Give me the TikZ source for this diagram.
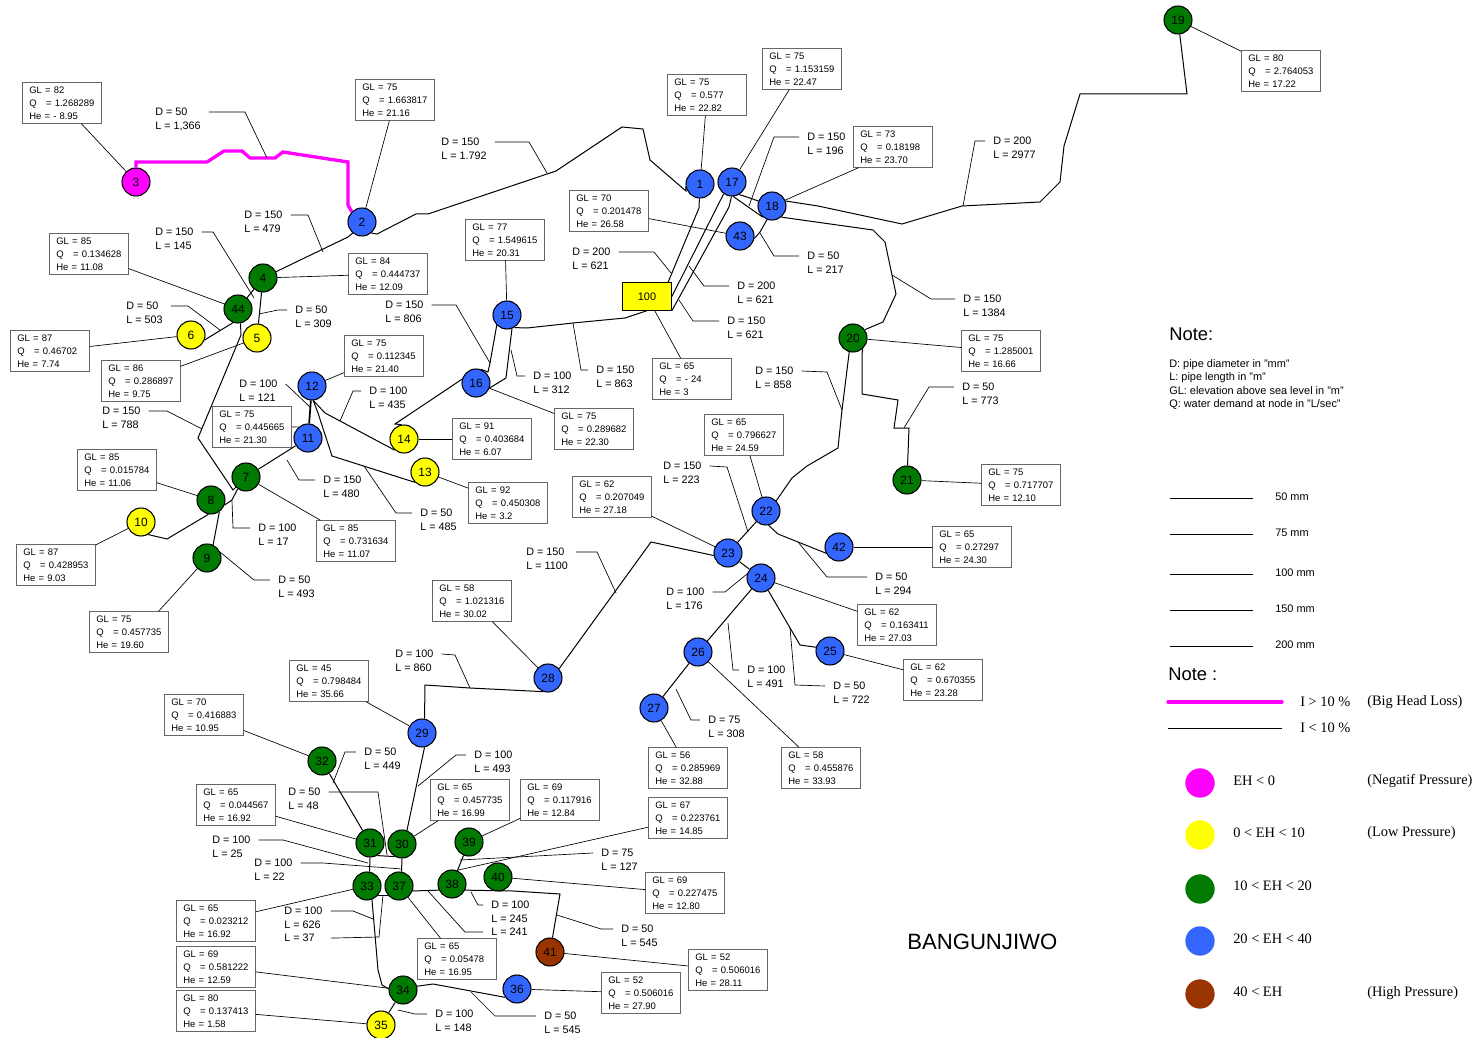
\documentclass[tikz,border=0pt]{standalone}
\usepackage{fontspec}
\setmainfont{Liberation Sans}
\newfontfamily\keyserif{Liberation Serif}
\usepackage{xcolor}
\usepackage{tikz}
\usetikzlibrary{arrows.meta,positioning,shapes,calc}
\definecolor{negcol}{RGB}{255,0,255}
\definecolor{lowcol}{RGB}{255,255,0}
\definecolor{midcol}{RGB}{0,122,0}
\definecolor{goodcol}{RGB}{51,102,255}
\definecolor{highcol}{RGB}{153,51,0}
\newcommand{\gqh}[3]{GL = #1\\Q\ \ \ = #2\\He = #3}

\begin{document}
\begin{tikzpicture}[
    x=0.75pt, y=-0.75pt,
    junction/.style={circle, draw, line width=0.8pt, minimum size=21pt, inner sep=0pt, font=\fontsize{9}{9}\selectfont},
    negnode/.style={junction, fill=negcol},
    lownode/.style={junction, fill=lowcol},
    midnode/.style={junction, fill=midcol},
    goodnode/.style={junction, fill=goodcol},
    highnode/.style={junction, fill=highcol},
    tanknode/.style={rectangle, draw, line width=0.8pt, fill=lowcol, minimum width=36.5pt, minimum height=20.5pt, inner sep=0pt, font=\fontsize{8.2}{9}\selectfont},
    databox/.style={rectangle, draw=black!60, line width=0.55pt, fill=white, minimum width=59pt, minimum height=30.5pt, text width=49pt, inner xsep=5pt, inner ysep=0pt, align=left, font=\fontsize{7.1}{9.75}\selectfont},
    pipetag/.style={anchor=north west, xshift=-6pt, inner xsep=6pt, inner ysep=-2.9pt, align=left, font=\fontsize{8.1}{10}\selectfont},
    pipe/.style={line width=0.75pt},
    keyline/.style={line width=0.6pt},
    bigloss/.style={line width=2.5pt, draw=negcol},
    leader/.style={line width=0.5pt},
    notetitle/.style={anchor=west, inner sep=0pt, font=\fontsize{13.8}{15}\selectfont},
    notetext/.style={anchor=west, inner sep=0pt, font=\fontsize{8.2}{10}\selectfont},
    keytext/.style={anchor=west, inner sep=0pt, font=\keyserif\fontsize{10.8}{12}\selectfont},
    keydot/.style={circle, minimum size=22pt, inner sep=0pt}
  ]
    \useasboundingbox (0,0) rectangle (1479,1038);

    \node[goodnode] (n1) at (700,184) {1};
    \node[goodnode] (n2) at (362,222) {2};
    \node[negnode] (n3) at (136,182) {3};
    \node[midnode] (n4) at (263,278) {4};
    \node[lownode] (n5) at (257,338) {5};
    \node[lownode] (n6) at (191,335) {6};
    \node[midnode] (n7) at (246,477) {7};
    \node[midnode] (n8) at (211,500) {8};
    \node[midnode] (n9) at (207,558) {9};
    \node[lownode] (n10) at (141,522) {10};
    \node[goodnode] (n11) at (308,438) {11};
    \node[goodnode] (n12) at (312,386) {12};
    \node[lownode] (n13) at (425,472) {13};
    \node[lownode] (n14) at (404,439) {14};
    \node[goodnode] (n15) at (507,315) {15};
    \node[goodnode] (n16) at (476,383) {16};
    \node[goodnode] (n17) at (732,182) {17};
    \node[goodnode] (n18) at (772,206) {18};
    \node[midnode] (n19) at (1178,20) {19};
    \node[midnode] (n20) at (853,338) {20};
    \node[midnode] (n21) at (907,480) {21};
    \node[goodnode] (n22) at (766,511) {22};
    \node[goodnode] (n23) at (728,553) {23};
    \node[goodnode] (n24) at (761,578) {24};
    \node[goodnode] (n25) at (830,651) {25};
    \node[goodnode] (n26) at (698,652) {26};
    \node[goodnode] (n27) at (654,708) {27};
    \node[goodnode] (n28) at (548,678) {28};
    \node[goodnode] (n29) at (422,733) {29};
    \node[midnode] (n30) at (402,844) {30};
    \node[midnode] (n31) at (370,843) {31};
    \node[midnode] (n32) at (322,761) {32};
    \node[midnode] (n33) at (367,886) {33};
    \node[midnode] (n34) at (403,990) {34};
    \node[lownode] (n35) at (381,1025) {35};
    \node[goodnode] (n36) at (517,989) {36};
    \node[midnode] (n37) at (399,886) {37};
    \node[midnode] (n38) at (452,884) {38};
    \node[midnode] (n39) at (469,842) {39};
    \node[midnode] (n40) at (498,877) {40};
    \node[highnode] (n41) at (550,952) {41};
    \node[goodnode] (n42) at (839,547) {42};
    \node[goodnode] (n43) at (740,236) {43};
    \node[midnode] (n44) at (238,309) {44};
    \node[tanknode] (tank) at (647,296.5) {100};

    \node[databox] (q1) at (707,95) {\gqh{75}{0.577}{22.82}};
    \node[databox] (q2) at (395,100) {\gqh{75}{1.663817}{21.16}};
    \node[databox] (q3) at (62,103) {\gqh{82}{1.268289}{- 8.95}};
    \node[databox] (q4) at (388,274) {\gqh{84}{0.444737}{12.09}};
    \node[databox] (q5) at (141,381) {\gqh{86}{0.286897}{9.75}};
    \node[databox] (q6) at (50,351) {\gqh{87}{0.46702}{7.74}};
    \node[databox] (q7) at (356,541) {\gqh{85}{0.731634}{11.07}};
    \node[databox] (q8) at (117,470) {\gqh{85}{0.015784}{11.06}};
    \node[databox] (q9) at (129,632) {\gqh{75}{0.457735}{19.60}};
    \node[databox] (q10) at (56,565) {\gqh{87}{0.428953}{9.03}};
    \node[databox] (q11) at (252,427) {\gqh{75}{0.445665}{21.30}};
    \node[databox] (q12) at (384,356) {\gqh{75}{0.112345}{21.40}};
    \node[databox] (q13) at (508,503) {\gqh{92}{0.450308}{3.2}};
    \node[databox] (q14) at (492,439) {\gqh{91}{0.403684}{6.07}};
    \node[databox] (q15) at (505,240) {\gqh{77}{1.549615}{20.31}};
    \node[databox] (q16) at (594,429) {\gqh{75}{0.289682}{22.30}};
    \node[databox] (q17) at (802,69) {\gqh{75}{1.153159}{22.47}};
    \node[databox] (q18) at (893,147) {\gqh{73}{0.18198}{23.70}};
    \node[databox] (q19) at (1281,71) {\gqh{80}{2.764053}{17.22}};
    \node[databox] (q20) at (1001,351) {\gqh{75}{1.285001}{16.66}};
    \node[databox] (q21) at (1021,485) {\gqh{75}{0.717707}{12.10}};
    \node[databox] (q22) at (744,435) {\gqh{65}{0.796627}{24.59}};
    \node[databox] (q23) at (612,497) {\gqh{62}{0.207049}{27.18}};
    \node[databox] (q24) at (897,625) {\gqh{62}{0.163411}{27.03}};
    \node[databox] (q25) at (943,680) {\gqh{62}{0.670355}{23.28}};
    \node[databox] (q26) at (821,768) {\gqh{58}{0.455876}{33.93}};
    \node[databox] (q27) at (688,768) {\gqh{56}{0.285969}{32.88}};
    \node[databox] (q28) at (472,601) {\gqh{58}{1.021316}{30.02}};
    \node[databox] (q29) at (329,681) {\gqh{45}{0.798484}{35.66}};
    \node[databox] (q30) at (470,800) {\gqh{65}{0.457735}{16.99}};
    \node[databox] (q31) at (236,805) {\gqh{65}{0.044567}{16.92}};
    \node[databox] (q32) at (204,715) {\gqh{70}{0.416883}{10.95}};
    \node[databox] (q33) at (216,921) {\gqh{65}{0.023212}{16.92}};
    \node[databox] (q34) at (216,967) {\gqh{69}{0.581222}{12.59}};
    \node[databox] (q35) at (216,1011) {\gqh{80}{0.137413}{1.58}};
    \node[databox] (q36) at (641,993) {\gqh{52}{0.506016}{27.90}};
    \node[databox] (q37) at (457,959) {\gqh{65}{0.05478}{16.95}};
    \node[databox] (q38) at (688,818) {\gqh{67}{0.223761}{14.85}};
    \node[databox] (q39) at (560,800) {\gqh{69}{0.117916}{12.84}};
    \node[databox] (q40) at (685,893) {\gqh{69}{0.227475}{12.80}};
    \node[databox] (q41) at (728,970) {\gqh{52}{0.506016}{28.11}};
    \node[databox] (q42) at (972,547) {\gqh{65}{0.27297}{24.30}};
    \node[databox] (q43) at (609,211) {\gqh{70}{0.201478}{26.58}};
    \node[databox] (q44) at (89,254) {\gqh{85}{0.134628}{11.08}};
    \node[databox] (qtank) at (692,379) {\gqh{65}{- 24}{3}};

    \draw[leader] (q1) -- (n1);
    \draw[leader] (q2) -- (n2);
    \draw[leader] (q3) -- (n3);
    \draw[leader] (q4) -- (n4);
    \draw[leader] (q5) -- (n5);
    \draw[leader] (q6) -- (n6);
    \draw[leader] (q7) -- (n7);
    \draw[leader] (q8) -- (n8);
    \draw[leader] (q9.35) -- (n9);
    \draw[leader] (q10) -- (n10);
    \draw[leader] (q11.east) -- (n11.130);
    \draw[leader] (q12) -- (n12);
    \draw[leader] (q13) -- (n13);
    \draw[leader] (q14) -- (n14);
    \draw[leader] (q15) -- (n15);
    \draw[leader] (q16) -- (n16);
    \draw[leader] (q17) -- (n17);
    \draw[leader] (q18.-149) -- (n18);
    \draw[leader] (q19) -- (n19);
    \draw[leader] (q20) -- (n20);
    \draw[leader] (q21) -- (n21);
    \draw[leader] (q22) -- (n22);
    \draw[leader] (q23) -- (n23);
    \draw[leader] (q24) -- (n24);
    \draw[leader] (q25) -- (n25);
    \draw[leader] (q26) -- (n26);
    \draw[leader] (q27) -- (n27);
    \draw[leader] (q28) -- (n28);
    \draw[leader] (q29) -- (n29);
    \draw[leader] (q30) -- (n30);
    \draw[leader] (q31) -- (n31);
    \draw[leader] (q32) -- (n32);
    \draw[leader] (q33) -- (n33);
    \draw[leader] (q34) -- (n34);
    \draw[leader] (q35) -- (n35);
    \draw[leader] (q36) -- (n36);
    \draw[leader] (q37) -- (n37);
    \draw[leader] (q38.-167) -- (n38.70);
    \draw[leader] (q39) -- (n39);
    \draw[leader] (q40) -- (n40);
    \draw[leader] (q41) -- (n41);
    \draw[leader] (q42) -- (n42);
    \draw[leader] (q43) -- (n43);
    \draw[leader] (q44) -- (n44);
    \draw[leader] (qtank) -- (tank);

    \draw[bigloss] (n3.north) -- (136,162) -- (207,162) -- (224,151) -- (242,151) -- (250,158) -- (275,158) -- (283,152) -- (348,162) -- (348,205) -- (n2.135);
    \draw[pipe] (n4) -- (348,237) -- (n2.-130);
    \draw[pipe] (n2.-50) -- (377,234) -- (416,214) -- (428,214) -- (556,171) -- (622,127) -- (643,129) -- (650,160) -- (686,191) -- (n1.-170);
    \draw[pipe] (n4) -- (n44);
    \draw[pipe] (n4) -- (n5);
    \draw[pipe] (n44.-110) -- (n6.-20);
    \draw[pipe] (n44.-80) -- (241,335) -- (198,438) -- (233,490) -- (n7.-135);
    \draw[pipe] (n7.-125) -- (232,500) -- (n8.-20);
    \draw[pipe] (n8.-100) -- (167,539) -- (n10.-60);
    \draw[pipe] (n8.-55) -- (n9.65);
    \draw[pipe] (n7) -- (n11);
    \draw[pipe, line width=1.3pt] (n11) -- (n12);
    \draw[pipe] (n12.-85) -- (325,413) -- (n14.-130);
    \draw[pipe] (n12.-85) -- (318,413) -- (332,456) -- (n13.-135);
    \draw[pipe] (n14.100) -- (395,424) -- (n16.165);
    \draw[pipe] (n15.-135) -- (490,363) -- (488,372) -- (n16.70);
    \draw[pipe] (n15.-70) -- (506,378) -- (n16.-20);
    \draw[pipe] (n15.-60) -- (527,328) -- (573,323) -- (625,318) -- (tank.south);
    \draw[pipe] (n1) -- (699,208) -- (tank.34);
    \draw[pipe] (n17.-125) -- (717,207) -- (tank.east);
    \draw[pipe] (n17.-92) -- (729,207) -- (tank.south east);
    \draw[pipe] (n17.-85) -- (n18.-130);
    \draw[pipe] (n17.-60) -- (750,198) -- (n18.160);
    \draw[pipe] (n18.-110) -- (760,232) -- (n43.-10);
    \draw[pipe] (n18.-50) -- (873,230) -- (885,242) -- (896,294) -- (883,322) -- (n20.35);
    \draw[pipe] (n18.20) -- (818,206) -- (902,224) -- (962,206) -- (1040,202) -- (1060,182) -- (1064,146) -- (1080,94) -- (1187,94) -- (n19);
    \draw[pipe] (n20.-50) -- (862,360) -- (862,394) -- (898,400) -- (894,428) -- (909,428) -- (n21);
    \draw[pipe] (n20.-105) -- (842,410) -- (838,448) -- (807,466) -- (792,478) -- (n22.45);
    \draw[pipe] (n22) -- (n23);
    \draw[pipe] (n22.-80) -- (778,534) -- (n42.-155);
    \draw[pipe] (n23) -- (n24);
    \draw[pipe] (n23.-170) -- (651,542) -- (n28.40);
    \draw[pipe] (n24) -- (n26);
    \draw[pipe] (n24.-60) -- (800,645) -- (n25.165);
    \draw[pipe] (n26) -- (n27);
    \draw[pipe] (n28.-110) -- (470,688) -- (425,685) -- (n29.80);
    \draw[pipe] (n29.-80) -- (n30.70);
    \draw[pipe] (n31.-60) -- (n30.-120);
    \draw[pipe] (n31.-90) -- (n33.80);
    \draw[pipe] (n30.-90) -- (n37.80);
    \draw[pipe] (n32) -- (n31);
    \draw[pipe] (n33.-40) -- (n37.-140);
    \draw[pipe] (n33.-70) -- (378,970) -- (382,985) -- (n34.175);
    \draw[pipe] (n37.-20) -- (n38.-155);
    \draw[pipe] (n38) -- (n39);
    \draw[pipe] (n38.-25) -- (513,891) -- (560,894) -- (n41);
    \draw[pipe] (n34.15) -- (433,984) -- (n36.-145);
    \draw[pipe] (n34) -- (n35);

    \node[pipetag] (d3) at (155,112) {D = 50\\L = 1,366};
    \coordinate (tap3) at (267,158);
    \draw[leader] (d3.north east) -- (245,112) -- (tap3);
    \node[pipetag] (d2) at (441,142) {D = 150\\L = 1.792};
    \coordinate (tap2) at (547,173);
    \draw[leader] (d2.north east) -- (529,142) -- (tap2);
    \node[pipetag] (d4) at (244,215) {D = 150\\L = 479};
    \coordinate (tap4) at (323,252);
    \draw[leader] (d4.north east) -- (308,215) -- (tap4);
    \node[pipetag] (d44) at (155,232) {D = 150\\L = 145};
    \coordinate (tap44) at (254,298);
    \draw[leader] (d44.north east) -- (213,232) -- (tap44);
    \node[pipetag] (d6) at (126,306) {D = 50\\L = 503};
    \coordinate (tap6) at (220,330);
    \draw[leader] (d6.north east) -- (188,306) -- (tap6);
    \node[pipetag] (d5) at (295,310) {D = 50\\L = 309};
    \coordinate (tap5) at (259,314);
    \draw[leader] (d5.north west) -- (278,310) -- (tap5);
    \node[pipetag] (d16a) at (385,305) {D = 150\\L = 806};
    \coordinate (tap16a) at (490,363);
    \draw[leader] (d16a.north east) -- (456,305) -- (tap16a);
    \node[pipetag] (d16b) at (533,376) {D = 100\\L = 312};
    \coordinate (tap16b) at (511,350);
    \draw[leader] (d16b.north west) -- (517,376) -- (tap16b);
    \node[pipetag] (d15) at (596,370) {D = 150\\L = 863};
    \coordinate (tap15) at (573,323);
    \draw[leader] (d15.north west) -- (581,370) -- (tap15);
    \node[pipetag] (d1) at (572,252) {D = 200\\L = 621};
    \coordinate (tap1) at (671,273);
    \draw[leader] (d1.north east) -- (654,252) -- (tap1);
    \node[pipetag] (d17a) at (737,286) {D = 200\\L = 621};
    \coordinate (tap17a) at (689,266);
    \draw[leader] (d17a.north west) -- (704,286) -- (tap17a);
    \node[pipetag] (d17b) at (727,321) {D = 150\\L = 621};
    \coordinate (tap17b) at (679,300);
    \draw[leader] (d17b.north west) -- (693,321) -- (tap17b);
    \node[pipetag] (d43) at (807,256) {D = 50\\L = 217};
    \coordinate (tap43) at (760,233);
    \draw[leader] (d43.north west) -- (774,256) -- (tap43);
    \node[pipetag] (d18) at (807,137) {D = 150\\L = 196};
    \coordinate (tap18) at (749,206);
    \draw[leader] (d18.north west) -- (774,137) -- (tap18);
    \node[pipetag] (d19) at (993,141) {D = 200\\L = 2977};
    \coordinate (tap19) at (963,206);
    \draw[leader] (d19.north west) -- (975,141) -- (tap19);
    \node[pipetag] (d20) at (963,299) {D = 150\\L = 1384};
    \coordinate (tap20) at (892,275);
    \draw[leader] (d20.north west) -- (931,299) -- (tap20);
    \node[pipetag] (d21) at (962,387) {D = 50\\L = 773};
    \coordinate (tap21) at (904,428);
    \draw[leader] (d21.north west) -- (929,387) -- (tap21);
    \node[pipetag] (d22) at (755,371) {D = 150\\L = 858};
    \coordinate (tap22) at (842,410);
    \draw[leader] (d22.north east) -- (827,372) -- (tap22);
    \node[pipetag] (d23a) at (663,466) {D = 150\\L = 223};
    \coordinate (tap23a) at (748,532);
    \draw[leader] (d23a.north east) -- (727,467) -- (tap23a);
    \node[pipetag] (d28) at (526,552) {D = 150\\L = 1100};
    \coordinate (tap28) at (616,593);
    \draw[leader] (d28.north east) -- (597,552) -- (tap28);
    \node[pipetag] (d24) at (666,592) {D = 100\\L = 176};
    \coordinate (tap24) at (747,574);
    \draw[leader] (d24.north east) -- (725,592) -- (tap24);
    \node[pipetag] (d42) at (875,577) {D = 50\\L = 294};
    \coordinate (tap42) at (798,542);
    \draw[leader] (d42.north west) -- (827,577) -- (tap42);
    \node[pipetag] (d26) at (747,670) {D = 100\\L = 491};
    \coordinate (tap26) at (728,623);
    \draw[leader] (d26.north west) -- (733,670) -- (tap26);
    \node[pipetag] (d25) at (833,686) {D = 50\\L = 722};
    \coordinate (tap25) at (790,628);
    \draw[leader] (d25.north west) -- (795,685) -- (tap25);
    \node[pipetag] (d27) at (708,720) {D = 75\\L = 308};
    \coordinate (tap27) at (676,689);
    \draw[leader] (d27.north west) -- (691,720) -- (tap27);
    \node[pipetag] (d29) at (395,654) {D = 100\\L = 860};
    \coordinate (tap29) at (470,688);
    \draw[leader] (d29.north east) -- (455,655) -- (tap29);
    \node[pipetag] (d32) at (364,752) {D = 50\\L = 449};
    \coordinate (tap32) at (333,783);
    \draw[leader] (d32.north west) -- (345,752) -- (tap32);
    \node[pipetag] (d31) at (288,792) {D = 50\\L = 48};
    \coordinate (tap31) at (387,855);
    \draw[leader] (d31.north east) -- (378,792) -- (tap31);
    \node[pipetag] (d30) at (474,755) {D = 100\\L = 493};
    \coordinate (tap30) at (418,786);
    \draw[leader] (d30.north west) -- (456,755) -- (tap30);
    \node[pipetag] (d33a) at (212,840) {D = 100\\L = 25};
    \coordinate (tap33a) at (368,863);
    \draw[leader] (d33a.north east) -- (283,840) -- (tap33a);
    \node[pipetag] (d37a) at (254,863) {D = 100\\L = 22};
    \coordinate (tap37a) at (402,869);
    \draw[leader] (d37a.north east) -- (323,863) -- (tap37a);
    \node[pipetag] (d34) at (284,911) {D = 100\\L = 626\\L = 37};
    \coordinate (tap34) at (373,919);
    \coordinate (tap33b) at (383,895);
    \draw[leader] (d34.north east) -- (353,911) -- (tap34);
    \draw[leader] (d34.south east) -- (379,937) -- (tap33b);
    \node[pipetag] (d38) at (491,905) {D = 100\\L = 245\\L = 241};
    \coordinate (tap38) at (471,892);
    \coordinate (tap37b) at (428,891);
    \draw[leader] (d38.north west) -- (478,905) -- (tap38);
    \draw[leader] (d38.south west) -- (465,932) -- (tap37b);
    \node[pipetag] (d39) at (601,853) {D = 75\\L = 127};
    \coordinate (tap39) at (460,860);
    \draw[leader] (d39.north west) -- (tap39);
    \node[pipetag] (d41) at (621,929) {D = 50\\L = 545};
    \coordinate (tap41) at (557,915);
    \draw[leader] (d41.north west) -- (601,929) -- (tap41);
    \node[pipetag] (d35) at (435,1014) {D = 100\\L = 148};
    \coordinate (tap35) at (398,1010);
    \draw[leader] (d35.north west) -- (415,1014) -- (tap35);
    \node[pipetag] (d36) at (544,1016) {D = 50\\L = 545};
    \coordinate (tap36) at (471,992);
    \draw[leader] (d36.north west) -- (495,1016) -- (tap36);
    \node[pipetag] (d14) at (369,391) {D = 100\\L = 435};
    \coordinate (tap14) at (340,421);
    \draw[leader] (d14.north west) -- (353,391) -- (tap14);
    \node[pipetag] (d11) at (239,384) {D = 100\\L = 121};
    \coordinate (tap11) at (310,407);
    \draw[leader] (d11.north east) -- (tap11);
    \node[pipetag] (d7a) at (323,480) {D = 150\\L = 480};
    \coordinate (tap7a) at (287,460);
    \draw[leader] (d7a.north west) -- (299,480) -- (tap7a);
    \node[pipetag] (d7b) at (258,528) {D = 100\\L = 17};
    \coordinate (tap7b) at (232,501);
    \draw[leader] (d7b.north west) -- (233,528) -- (tap7b);
    \node[pipetag] (d7c) at (102,411) {D = 150\\L = 788};
    \coordinate (tap7c) at (202,429);
    \draw[leader] (d7c.north east) -- (167,411) -- (tap7c);
    \node[pipetag] (d9) at (278,580) {D = 50\\L = 493};
    \coordinate (tap9) at (220,552);
    \draw[leader] (d9.north west) -- (254,580) -- (tap9);
    \node[pipetag] (d13) at (420,513) {D = 50\\L = 485};
    \coordinate (tap13) at (364,466);
    \draw[leader] (d13.north west) -- (396,513) -- (tap13);

    \node[anchor=west, inner sep=0pt, font=\fontsize{16.6}{18}\selectfont] (place) at (907,942) {BANGUNJIWO};

    \node[notetitle] (note1) at (1169,334) {Note:};
    \node[notetext] (noteD) at (1169,365) {D: pipe diameter in "mm"};
    \node[notetext] (noteL) at (1169,378) {L: pipe length in "m"};
    \node[notetext] (noteGL) at (1169,391) {GL: elevation above sea level in "m"};
    \node[notetext] (noteQ) at (1169,405) {Q: water demand at node in "L/sec"};

    \coordinate (k50a) at (1170,498);
    \coordinate (k50b) at (1253,498);
    \draw[keyline] (k50a) -- (k50b);
    \node[notetext] (k50) at (1275,497) {50 mm};
    \coordinate (k75a) at (1170,534);
    \coordinate (k75b) at (1253,534);
    \draw[keyline] (k75a) -- (k75b);
    \node[notetext] (k75) at (1275,533) {75 mm};
    \coordinate (k100a) at (1170,574);
    \coordinate (k100b) at (1253,574);
    \draw[keyline] (k100a) -- (k100b);
    \node[notetext] (k100) at (1275,573) {100 mm};
    \coordinate (k150a) at (1170,610);
    \coordinate (k150b) at (1253,610);
    \draw[keyline] (k150a) -- (k150b);
    \node[notetext] (k150) at (1275,609) {150 mm};
    \coordinate (k200a) at (1170,646);
    \coordinate (k200b) at (1253,646);
    \draw[keyline] (k200a) -- (k200b);
    \node[notetext] (k200) at (1275,645) {200 mm};

    \node[notetitle] (note2) at (1168,674) {Note :};
    \coordinate (lossa) at (1168,702);
    \coordinate (lossb) at (1282,702);
    \draw[bigloss, line cap=round] (lossa) -- (lossb);
    \node[keytext] (lossbig) at (1300,702) {I > 10 \%};
    \node[keytext] (losstxt) at (1367,702) {(Big Head Loss)};
    \coordinate (okaya) at (1168,728);
    \coordinate (okayb) at (1282,728);
    \draw[keyline] (okaya) -- (okayb);
    \node[keytext] (losssmall) at (1300,728) {I < 10 \%};

    \node[keydot, fill=negcol] (kneg) at (1200,783) {};
    \node[keytext] (knegt) at (1233,781) {EH < 0};
    \node[keytext] (knegp) at (1367,781) {(Negatif Pressure)};
    \node[keydot, fill=lowcol] (klow) at (1200,835) {};
    \node[keytext] (klowt) at (1233,833) {0 < EH < 10};
    \node[keytext] (klowp) at (1367,833) {(Low Pressure)};
    \node[keydot, fill=midcol] (kmid) at (1200,889) {};
    \node[keytext] (kmidt) at (1233,886) {10 < EH < 20};
    \node[keydot, fill=goodcol] (kgood) at (1200,941) {};
    \node[keytext] (kgoodt) at (1233,939) {20 < EH < 40};
    \node[keydot, fill=highcol] (khigh) at (1200,994) {};
    \node[keytext] (khight) at (1233,992) {40 < EH};
    \node[keytext] (khighp) at (1367,993) {(High Pressure)};
  \end{tikzpicture}
\end{document}
